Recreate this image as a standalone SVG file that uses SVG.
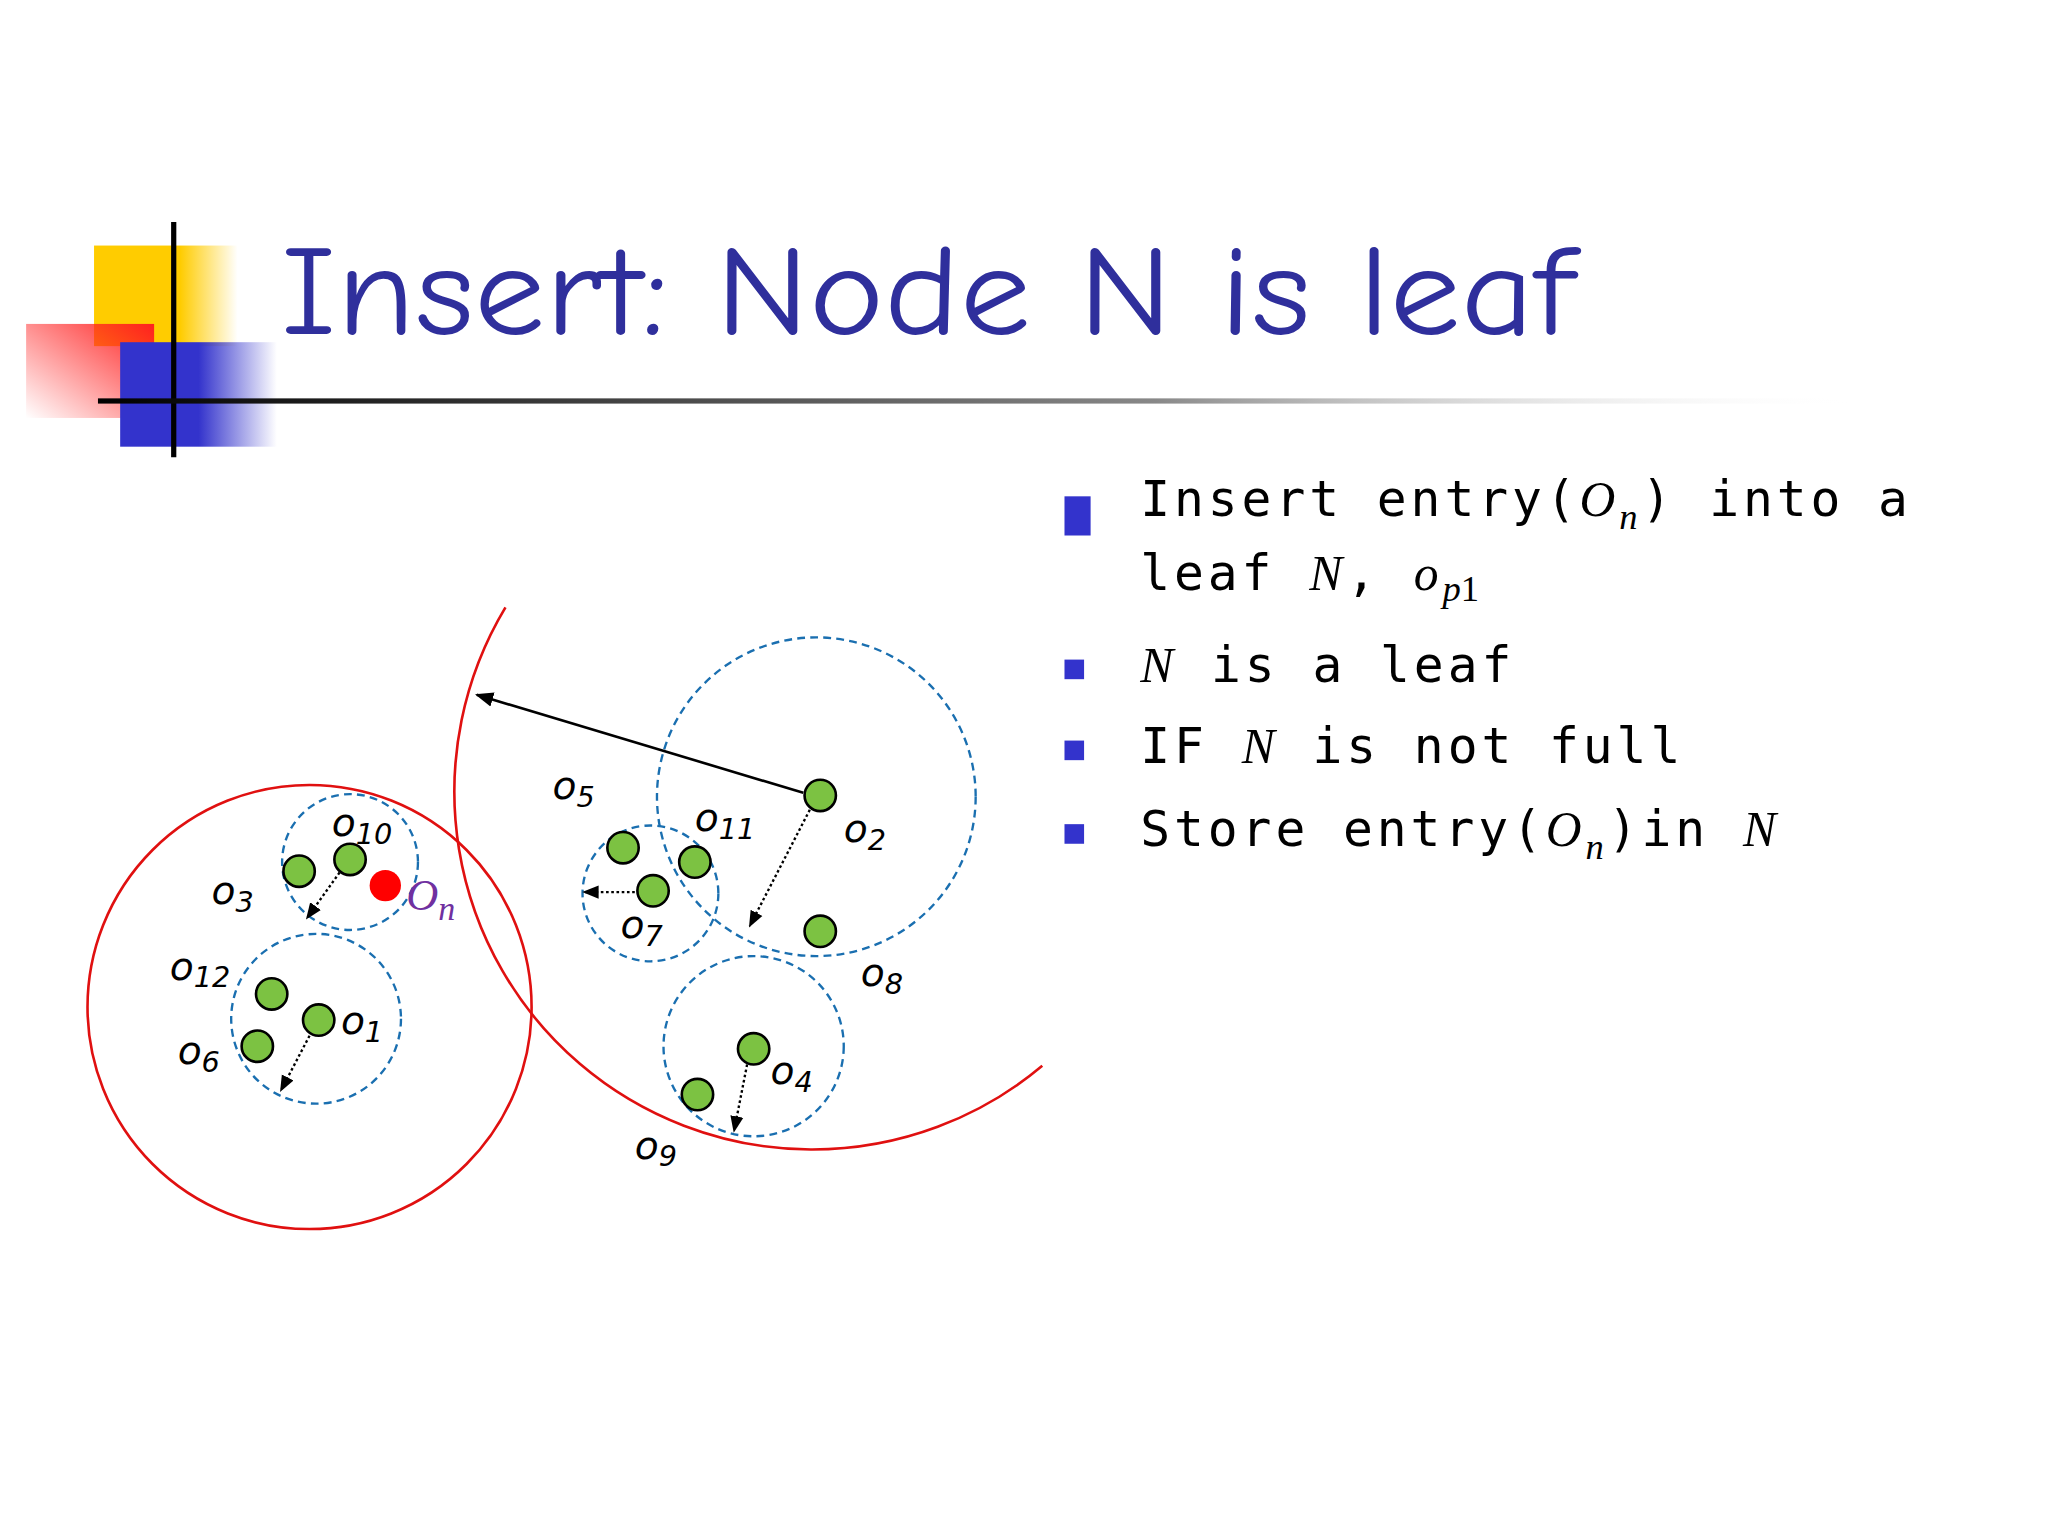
<svg xmlns="http://www.w3.org/2000/svg" width="2048" height="1536" viewBox="0 0 2048 1536">
<defs>
<linearGradient id="hl" x1="0" x2="1"><stop offset="0" stop-color="#000"/><stop offset="0.6" stop-color="#888"/><stop offset="1" stop-color="#fff" stop-opacity="0"/></linearGradient>
<linearGradient id="bl" x1="0" x2="1"><stop offset="0.5" stop-color="#3333cc"/><stop offset="1" stop-color="#3333cc" stop-opacity="0"/></linearGradient>
<linearGradient id="yl" x1="0" x2="1"><stop offset="0.6" stop-color="#ffcc00"/><stop offset="1" stop-color="#ffcc00" stop-opacity="0"/></linearGradient>
<linearGradient id="rd" x1="1" y1="0" x2="0" y2="1"><stop offset="0" stop-color="#ff2020"/><stop offset="1" stop-color="#ff2020" stop-opacity="0"/></linearGradient>
<marker id="ah" viewBox="0 0 10 10" refX="9" refY="5" markerWidth="7" markerHeight="7" orient="auto"><path d="M0,1 L10,5 L0,9 z" fill="#000"/></marker>
</defs>
<style>
.g{fill:#7cc242;stroke:#000;stroke-width:2}
.dc{fill:none;stroke:#1a6fb0;stroke-width:1.8;stroke-dasharray:6 4}
.rc{fill:none;stroke:#e01010;stroke-width:2}
.dot{stroke:#000;stroke-width:1.8;stroke-dasharray:2 2;fill:none}
.lb{font-family:'DejaVu Sans',sans-serif;font-style:italic;font-size:30px;fill:#000}
.sb{font-size:22px}
.bt{font-family:'DejaVu Sans Mono','Liberation Mono',monospace;font-size:38px;fill:#000;letter-spacing:3px}
.it{font-family:'Liberation Serif',serif;font-style:italic}
.sq{fill:#3333cc}
</style>
<rect width="2048" height="1536" fill="#fff"/>
<g transform="scale(1.30612)">
<g id="title">
<rect x="72" y="188" width="110" height="77" fill="url(#yl)"/>
<rect x="20" y="248" width="98" height="72" fill="url(#rd)"/>
<rect x="92" y="262" width="120" height="80" fill="url(#bl)"/>
<line x1="133" y1="170" x2="133" y2="350" stroke="#000" stroke-width="4"/>
<rect x="75" y="305" width="1350" height="4" fill="url(#hl)"/>
<text x="215" y="256" font-family="'Comic Neue','DejaVu Sans',sans-serif" font-size="98" fill="#2f2f9c" textLength="990" lengthAdjust="spacingAndGlyphs">Insert: Node N is leaf</text>
</g>
<g id="bullets">
<rect class="sq" x="815" y="380" width="20" height="30"/>
<text class="bt" x="873" y="395">Insert entry(<tspan class="it">O</tspan><tspan class="it" font-size="28" dy="10">n</tspan><tspan dy="-10">) into a</tspan></text>
<text class="bt" x="873" y="452">leaf <tspan class="it">N</tspan>, <tspan class="it">o</tspan><tspan class="it" font-size="28" dy="8" letter-spacing="0">p</tspan><tspan font-family="Liberation Serif" font-size="28" letter-spacing="0">1</tspan></text>
<rect class="sq" x="815" y="505" width="15" height="15"/>
<text class="bt" x="873" y="522"><tspan class="it">N</tspan> is a leaf</text>
<rect class="sq" x="815" y="567" width="15" height="15"/>
<text class="bt" x="873" y="584">IF <tspan class="it">N</tspan> is not full</text>
<rect class="sq" x="815" y="631" width="15" height="15"/>
<text class="bt" x="873" y="648">Store entry(<tspan class="it">O</tspan><tspan class="it" font-size="28" dy="10">n</tspan><tspan dy="-10">)in </tspan><tspan class="it">N</tspan></text>
</g>
<g id="regions">
<circle class="rc" cx="237" cy="771" r="170"/>
<path class="rc" d="M387,465 A274,274 0 0 0 798,816"/>
<circle class="dc" cx="625" cy="610" r="122"/>
<circle class="dc" cx="268" cy="660" r="52"/>
<circle class="dc" cx="242" cy="780" r="65"/>
<circle class="dc" cx="498" cy="684" r="52"/>
<circle class="dc" cx="577" cy="801" r="69"/>
</g>
<g id="connectors">
<line x1="615" y1="607" x2="365" y2="532" stroke="#000" stroke-width="2" marker-end="url(#ah)"/>
<line class="dot" x1="260" y1="668" x2="235" y2="703" marker-end="url(#ah)"/>
<line class="dot" x1="237" y1="793" x2="215" y2="835" marker-end="url(#ah)"/>
<line class="dot" x1="490" y1="683" x2="447" y2="683" marker-end="url(#ah)"/>
<line class="dot" x1="620" y1="620" x2="574" y2="709" marker-end="url(#ah)"/>
<line class="dot" x1="572" y1="815" x2="562" y2="866" marker-end="url(#ah)"/>
</g>
<g id="points">
<circle class="g" cx="229" cy="667" r="12"/><circle class="g" cx="268" cy="658" r="12"/>
<circle class="g" cx="208" cy="761" r="12"/><circle class="g" cx="244" cy="781" r="12"/>
<circle class="g" cx="197" cy="801" r="12"/><circle class="g" cx="477" cy="649" r="12"/>
<circle class="g" cx="532" cy="660" r="12"/><circle class="g" cx="500" cy="682" r="12"/>
<circle class="g" cx="628" cy="609" r="12"/><circle class="g" cx="628" cy="713" r="12"/>
<circle class="g" cx="577" cy="803" r="12"/><circle class="g" cx="534" cy="838" r="12"/>
<circle cx="295" cy="678" r="12" fill="#ff0000"/>
</g>
<g id="labels">
<text class="lb" x="423" y="612">o<tspan class="sb" dy="6">5</tspan></text>
<text class="lb" x="254" y="640">o<tspan class="sb" dy="6">10</tspan></text>
<text class="lb" x="532" y="636">o<tspan class="sb" dy="6">11</tspan></text>
<text class="lb" x="646" y="645">o<tspan class="sb" dy="6">2</tspan></text>
<text class="lb" x="162" y="692">o<tspan class="sb" dy="6">3</tspan></text>
<text x="311" y="697" font-family="'Liberation Serif',serif" font-style="italic" font-size="34" fill="#7030a0">O<tspan font-size="26" dy="7">n</tspan></text>
<text class="lb" x="475" y="718">o<tspan class="sb" dy="6">7</tspan></text>
<text class="lb" x="659" y="755">o<tspan class="sb" dy="6">8</tspan></text>
<text class="lb" x="130" y="750">o<tspan class="sb" dy="6">12</tspan></text>
<text class="lb" x="261" y="792">o<tspan class="sb" dy="6">1</tspan></text>
<text class="lb" x="136" y="815">o<tspan class="sb" dy="6">6</tspan></text>
<text class="lb" x="590" y="830">o<tspan class="sb" dy="6">4</tspan></text>
<text class="lb" x="486" y="887">o<tspan class="sb" dy="6">9</tspan></text>
</g>
</g>
</svg>
